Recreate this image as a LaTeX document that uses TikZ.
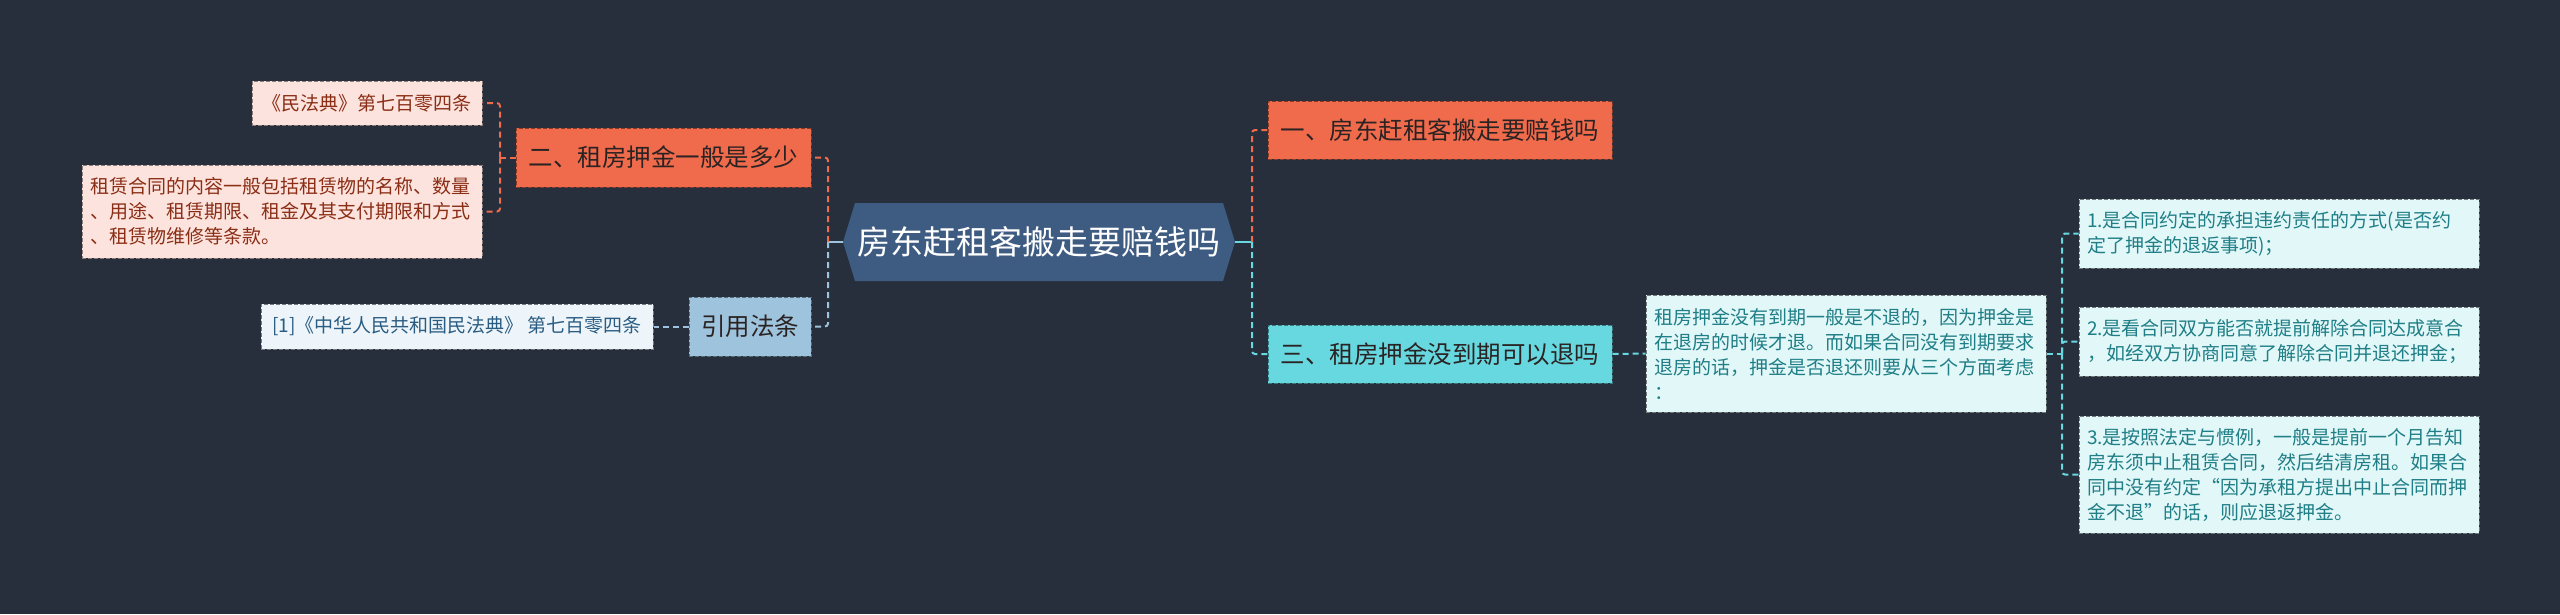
\documentclass[tikz,border=0pt]{standalone}
\usepackage{fontspec}
\setmainfont{Noto Sans CJK SC}
\definecolor{bg}{HTML}{272F3D}
\definecolor{rootc}{HTML}{3E5B82}
\definecolor{orangec}{HTML}{F06B4C}
\definecolor{pinkc}{HTML}{FDE3DD}
\definecolor{pinktext}{HTML}{8A2E16}
\definecolor{cyanc}{HTML}{67D8DF}
\definecolor{lcyan}{HTML}{E1F7F8}
\definecolor{lcyantext}{HTML}{1F7E86}
\definecolor{bluec}{HTML}{9EC4DD}
\definecolor{lblue}{HTML}{EDF5FA}
\definecolor{lbluetext}{HTML}{2A5C82}
\definecolor{darktext}{HTML}{2B2323}
\begin{document}
\begin{tikzpicture}[x=1pt,y=-1pt,
  box/.style={inner sep=0pt, line width=1pt, dash pattern=on 4pt off 2pt},
  bigfont/.style={font=\fontsize{24.5}{30}\selectfont},
  smallfont/.style={font=\fontsize{19}{25}\selectfont},
  orangebox/.style={box, bigfont, fill=orangec, draw=orangec!55!black, text=darktext},
  cyanbox/.style={box, bigfont, fill=cyanc, draw=cyanc!55!black, text=darktext},
  bluebox/.style={box, bigfont, fill=bluec, draw=bluec!55!black, text=darktext},
  pinkbox/.style={box, smallfont, fill=pinkc, draw=pinkc!55!black, text=pinktext},
  lcyanbox/.style={box, smallfont, fill=lcyan, draw=lcyan!50!black, text=lcyantext},
  lbluebox/.style={box, smallfont, fill=lblue, draw=lblue!50!black, text=lbluetext},
  multi/.style={inner xsep=8pt, align=left},
  conn/.style={line width=2pt, dash pattern=on 6pt off 4pt, rounded corners=3pt},
  solidc/.style={line width=2pt}]
\fill[bg] (0,0) rectangle (2560,614);
\useasboundingbox (0,0) rectangle (2560,614);

% root hexagon
\fill[rootc] (843,242) -- (855,203) -- (1223,203) -- (1235,242) -- (1223,281) -- (855,281) -- cycle;
\node[inner sep=0pt, minimum width=392pt, minimum height=78pt, text=white,
      font=\fontsize{33}{40}\selectfont] (root) at (1039,242) {房东赶租客搬走要赔钱吗};

% right branch
\node[orangebox, minimum width=344pt, minimum height=58pt] (n1) at (1440,130) {一、房东赶租客搬走要赔钱吗};
\node[cyanbox, minimum width=344pt, minimum height=58pt] (n3) at (1440,354) {三、租房押金没到期可以退吗};
\node[lcyanbox, multi, text width=384pt, minimum height=117pt] (d) at (1846,353.5)
  {租房押金没有到期一般是不退的，因为押金是\\在退房的时候才退。而如果合同没有到期要求\\退房的话，押金是否退还则要从三个方面考虑\\：};
\node[lcyanbox, multi, text width=384pt, minimum height=69pt] (r1) at (2279,233.5)
  {1.是合同约定的承担违约责任的方式(是否约\\定了押金的退返事项)；};
\node[lcyanbox, multi, text width=384pt, minimum height=69pt] (r2) at (2279,341.5)
  {2.是看合同双方能否就提前解除合同达成意合\\，如经双方协商同意了解除合同并退还押金；};
\node[lcyanbox, multi, text width=384pt, minimum height=117pt] (r3) at (2279,474.5)
  {3.是按照法定与惯例，一般是提前一个月告知\\房东须中止租赁合同，然后结清房租。如果合\\同中没有约定“因为承租方提出中止合同而押\\金不退”的话，则应退返押金。};

% left branch
\node[orangebox, minimum width=295pt, minimum height=59pt] (n2) at (663.5,157.5) {二、租房押金一般是多少};
\node[bluebox, minimum width=122pt, minimum height=59pt] (cite) at (750,326.5) {引用法条};
\node[pinkbox, minimum width=230pt, minimum height=44pt] (p1) at (367,103) {《民法典》第七百零四条};
\node[pinkbox, multi, text width=384pt, minimum height=93pt] (p2) at (282,211.5)
  {租赁合同的内容一般包括租赁物的名称、数量\\、用途、租赁期限、租金及其支付期限和方式\\、租赁物维修等条款。};
\node[lbluebox, minimum width=392pt, minimum height=45pt] (c1) at (457,326.5) {[1]《中华人民共和国民法典》 第七百零四条};

% junctions
\coordinate (lj) at (828,242);
\coordinate (rj) at (1252,242);
\coordinate (pj) at (500,157.5);
\coordinate (dj) at (2062,353.5);

% connectors
\draw[solidc, bluec] (root.west) -- (lj);
\draw[conn, orangec] (lj) |- (n2.east);
\draw[conn, bluec] (lj) |- (cite.east);
\draw[solidc, cyanc] (root.east) -- (rj);
\draw[conn, orangec] (rj) |- (n1.west);
\draw[conn, cyanc] (rj) |- (n3.west);
\draw[conn, cyanc] (n3.east) -- (d.west);
\draw[conn, cyanc] (d.east) -- (dj);
\draw[conn, cyanc] (dj) |- (r1.west);
\draw[conn, cyanc] (dj) |- (r2.west);
\draw[conn, cyanc] (dj) |- (r3.west);
\draw[conn, orangec] (n2.west) -- (pj);
\draw[conn, orangec] (pj) |- (p1.east);
\draw[conn, orangec] (pj) |- (p2.east);
\draw[conn, bluec] (cite.west) -- (c1.east);
\end{tikzpicture}
\end{document}
